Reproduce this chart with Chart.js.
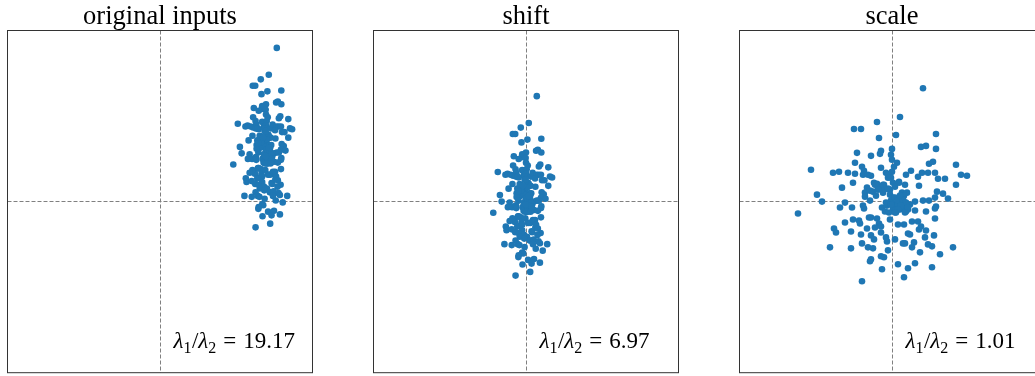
<!DOCTYPE html>
<html>
<head>
<meta charset="utf-8">
<script src="https://cdn.jsdelivr.net/npm/chart.js@4"></script>
<style>
  body { margin: 0; background: #fff; width: 1035px; height: 376px; overflow: hidden; position: relative; }
  canvas { position: absolute; top: 0; }
</style>
</head>
<body>
<canvas id="p0" width="366" height="376" style="left:0px"></canvas>
<canvas id="p1" width="366" height="376" style="left:366px"></canvas>
<canvas id="p2" width="366" height="376" style="left:732px"></canvas>
<script>
const titles = ['original inputs', 'shift', 'scale'];
const ratios = ['19.17', '6.97', '1.01'];

// mean and spread of the raw inputs (x, y)
const inputMean = [10.6, 4.85];
const inputStd = [0.348, 0.93];

// axis half-ranges, same for all three panels
const xLim = 15.25;
const yLim = 17.2;

// points after scaling, x/y pairs
const scaled = [
  [3.1, 11.4], [0.8, 8.5], [-1.5, 8.0], [-3.8, 7.3], [-3.1, 7.3], [4.4, 6.8], [0.4, 6.7], [-1.3, 6.4],
  [2.9, 5.5], [3.4, 5.6], [4.4, 5.3], [0.0, 5.3], [-3.5, 4.9], [-1.2, 4.8], [-1.1, 5.1], [-2.1, 4.6],
  [-0.1, 4.7], [0.0, 4.2], [-3.7, 3.9], [0.5, 3.9], [3.7, 3.8], [4.1, 4.0], [6.4, 3.7], [-3.0, 3.5],
  [-1.1, 3.4], [0.2, 3.5], [-8.1, 3.2], [-5.9, 2.9], [-5.3, 3.0], [-4.4, 2.9], [-3.7, 2.8], [-2.8, 3.1],
  [-2.9, 2.7], [-0.6, 2.9], [-0.2, 2.7], [0.0, 3.0], [1.4, 2.7], [1.9, 3.1], [3.0, 2.9], [3.6, 2.9],
  [4.3, 2.9], [6.9, 2.7], [7.5, 2.6], [-2.1, 2.6], [0.7, 2.0], [4.6, 2.3], [5.3, 2.3], [-3.9, 1.9],
  [-1.8, 1.9], [-1.5, 1.8], [-0.8, 1.7], [0.1, 1.9], [0.7, 1.9], [1.3, 1.7], [2.6, 2.5], [2.7, 1.6],
  [6.4, 1.7], [-5.0, 1.4], [-2.5, 1.4], [-1.2, 1.4], [-0.8, 1.2], [-0.2, 1.2], [-0.4, 1.3], [0.3, 1.5],
  [4.5, 1.0], [5.1, 0.8], [-7.5, 0.7], [-2.7, 0.9], [-1.9, 1.0], [-1.6, 0.6], [-0.9, 0.9], [-0.2, 0.7],
  [1.0, 0.9], [1.5, 0.9], [-2.7, 0.5], [1.2, 0.6], [4.3, 0.4], [5.6, 0.3], [-7.0, 0.0], [-4.7, -0.1],
  [-2.2, 0.1], [0.7, 0.2], [-0.1, 0.1], [2.3, 0.0], [3.1, 0.1], [3.7, 0.1], [0.2, -0.2], [0.8, -0.2],
  [1.3, -0.1], [-5.2, -0.6], [-4.0, -0.6], [-2.9, -0.4], [-2.8, -0.7], [-1.0, -0.6], [-0.5, -0.4], [0.1, -0.7],
  [0.5, -0.5], [0.8, -0.8], [1.1, -0.6], [1.8, -0.3], [4.4, -0.5], [4.3, -0.7], [2.3, -0.9], [3.4, -1.0],
  [-0.7, -1.0], [-0.3, -1.1], [0.4, -1.1], [1.4, -1.0], [-9.4, -1.2], [-3.3, -1.9], [-3.2, -2.2], [-3.9, -1.8],
  [-2.3, -1.6], [-2.1, -1.6], [-1.5, -1.7], [-1.3, -2.2], [-0.2, -1.8], [0.6, -2.3], [1.2, -2.3], [2.0, -2.0],
  [2.6, -2.0], [4.3, -1.7], [-4.7, -2.1], [-5.8, -2.7], [-5.6, -3.1], [-4.1, -3.0], [-2.5, -2.7], [-1.7, -2.6],
  [-1.1, -2.5], [-1.1, -3.1], [-3.1, -3.3], [-2.1, -3.4], [-0.6, -3.6], [0.3, -3.8], [1.6, -3.2], [1.8, -3.3],
  [2.7, -2.8], [2.9, -2.5], [3.4, -2.9], [4.2, -3.4], [3.3, -3.6], [-1.8, -3.8], [-3.0, -4.2], [-0.5, -4.0],
  [1.1, -4.2], [1.3, -4.2], [2.2, -4.1], [3.6, -4.3], [4.0, -4.5], [-6.2, -4.6], [-4.1, -4.7], [-2.4, -4.6],
  [-1.9, -4.7], [-0.4, -4.9], [2.0, -4.6], [2.8, -5.1], [6.1, -4.6], [4.8, -5.3], [-1.1, -5.5], [-0.8, -5.6],
  [-2.2, -6.0], [-2.1, -5.8], [0.6, -6.3], [2.3, -6.2], [-1.0, -6.8], [1.6, -6.7], [4.0, -6.6], [1.2, -7.6],
  [-3.0, -8.0], [0.6, -0.3], [1.4, -0.4], [0.9, 0.2], [0.4, -0.8], [1.6, -0.8], [0.1, 0.4], [-0.6, -0.1],
  [-1.4, 1.4], [-2.4, 2.7], [-0.4, 2.4],
  // dense middle of the cloud
  [0.3, 0.4], [0.6, 0.1], [1.1, 0.2], [1.4, -0.1], [0.9, -0.4], [0.6, -0.8], [1.6, -0.6], [0.3, -1.1],
  [1.3, -1.1], [0.8, 0.6], [-0.1, -0.3], [-1.7, 1.7], [-1.4, 1.2], [-2.2, 1.1], [-0.9, 1.7], [-0.4, 2.7],
  [-0.1, 2.4]
];

// undo the scaling, then the centring
const shifted = scaled.map(([x, y]) => ({ x: x * inputStd[0], y: y * inputStd[1] }));
const inputs = shifted.map(p => ({ x: p.x + inputMean[0], y: p.y + inputMean[1] }));
const panels = [inputs, shifted, scaled.map(([x, y]) => ({ x: x, y: y }))];

function drawRatio(ctx, x, y, value) {
    // [font, text, baseline shift, gap after]
    const parts = [
        ['italic 23px "Liberation Serif"', '\u03bb', 0, 0],
        ['16px "Liberation Serif"', '1', 4.5, 0.5],
        ['23px "Liberation Serif"', '/', 0, 0],
        ['italic 23px "Liberation Serif"', '\u03bb', 0, 0],
        ['16px "Liberation Serif"', '2', 4.5, 7],
        ['23px "Liberation Serif"', '=', 0, 7],
        ['23px "Liberation Serif"', value, 0, 0]
    ];
    ctx.textAlign = 'left';
    ctx.textBaseline = 'alphabetic';
    parts.forEach(function (p) {
        ctx.font = p[0];
        ctx.fillText(p[1], x, y + p[2]);
        x += ctx.measureText(p[1]).width + p[3];
    });
}

// dashed cross at the origin, frame, title and eigenvalue ratio
const panelDecor = {
    id: 'panelDecor',
    beforeDatasetsDraw(chart) {
        const ctx = chart.ctx, a = chart.chartArea;
        const x0 = Math.round(chart.scales.x.getPixelForValue(0)) + 0.5;
        const y0 = Math.floor(chart.scales.y.getPixelForValue(0)) + 0.5;
        ctx.save();
        ctx.strokeStyle = '#808080';
        ctx.lineWidth = 1;
        ctx.setLineDash([4, 2]);
        ctx.beginPath();
        ctx.moveTo(x0, a.top); ctx.lineTo(x0, a.bottom);
        ctx.moveTo(a.left, y0); ctx.lineTo(a.right, y0);
        ctx.stroke();
        ctx.restore();
    },
    afterDraw(chart, args, opts) {
        const ctx = chart.ctx, a = chart.chartArea;
        ctx.save();
        ctx.strokeStyle = '#333';
        ctx.lineWidth = 1;
        ctx.strokeRect(a.left, a.top, a.right - a.left, a.bottom - a.top);
        ctx.fillStyle = '#000';
        ctx.font = '26.5px "Liberation Serif"';
        ctx.textAlign = 'center';
        ctx.textBaseline = 'alphabetic';
        ctx.fillText(opts.title, (a.left + a.right) / 2, 24);
        drawRatio(ctx, a.left + 166, 348, opts.ratio);
        ctx.restore();
    }
};

panels.forEach(function (pts, i) {
    new Chart(document.getElementById('p' + i), {
        type: 'scatter',
        data: {
            datasets: [{
                data: pts,
                pointRadius: 3.3,
                pointHoverRadius: 3.3,
                backgroundColor: '#1f77b4',
                borderWidth: 0
            }]
        },
        options: {
            responsive: false,
            animation: false,
            events: [],
            layout: { padding: { left: 7.5, top: 30.5, right: 53.5, bottom: 0.5 } },
            scales: {
                x: { type: 'linear', display: false, min: -xLim, max: xLim },
                y: { type: 'linear', display: false, min: -yLim, max: yLim }
            },
            plugins: {
                legend: { display: false },
                tooltip: { enabled: false },
                panelDecor: { title: titles[i], ratio: ratios[i] }
            }
        },
        plugins: [panelDecor]
    });
});
</script>
</body>
</html>
